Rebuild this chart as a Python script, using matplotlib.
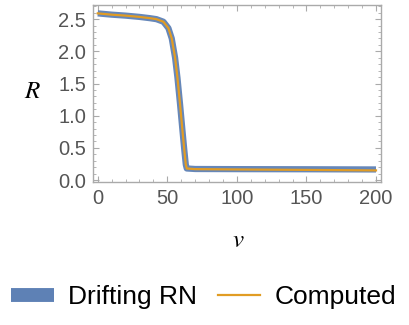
import matplotlib
matplotlib.use("Agg")
import matplotlib.pyplot as plt
from matplotlib.ticker import MultipleLocator, FormatStrFormatter
from matplotlib.lines import Line2D

plt.rcParams["mathtext.fontset"] = "stix"

v_drift = [0, 10, 20, 30, 37.6, 42.2, 47.2, 50.8, 53.2, 55.6, 57.3, 59.2, 60.9, 62.3, 63.3, 64.0, 70, 100, 150, 200]
R_drift = [2.59, 2.57, 2.555, 2.535, 2.515, 2.50, 2.46, 2.36, 2.20, 1.90, 1.59, 1.17, 0.77, 0.45, 0.24, 0.18, 0.172, 0.17, 0.168, 0.165]
v_comp = [0, 10, 20, 30, 37.6, 42.2, 47.2, 50.8, 53.2, 55.6, 57.3, 59.2, 60.9, 62.3, 63.3, 64.0, 70, 100, 150, 200]
R_comp = [2.59, 2.57, 2.555, 2.535, 2.515, 2.50, 2.46, 2.36, 2.20, 1.90, 1.59, 1.17, 0.77, 0.45, 0.24, 0.18, 0.17, 0.165, 0.158, 0.15]

blue = "#5E81B5"
orange = "#E19C24"
gray = "#555555"

fig = plt.figure(figsize=(4.1, 3.25), dpi=100)
ax = fig.add_axes([93/410, 1 - 182/325, (381-93)/410, (182-5)/325])
ax.plot(v_drift, R_drift, color=blue, lw=4.5, solid_capstyle="butt", alpha=0.95)
ax.plot(v_comp, R_comp, color=orange, lw=1.6)
ax.set_xlim(-3.4, 203.6)
ax.set_ylim(-0.03, 2.72)
ax.xaxis.set_major_locator(MultipleLocator(50))
ax.xaxis.set_minor_locator(MultipleLocator(10))
ax.yaxis.set_major_locator(MultipleLocator(0.5))
ax.yaxis.set_minor_locator(MultipleLocator(0.1))
ax.yaxis.set_major_formatter(FormatStrFormatter("%.1f"))
for s in ax.spines.values():
    s.set_color("#aaaaaa")
    s.set_linewidth(1.0)
ax.tick_params(which="both", direction="in", top=True, right=True, color="#aaaaaa")
ax.tick_params(which="major", length=4, width=0.8, labelsize=14.5, labelcolor=gray, pad=5)
ax.tick_params(which="minor", length=2, width=0.6)
for lab in ax.get_xticklabels() + ax.get_yticklabels():
    lab.set_family("Liberation Sans")

fig.text(33/410, 1 - 91/325, "$R$", fontsize=18, ha="center", va="center")
fig.text(238/410, 1 - 240/325, "$v$", fontsize=18, ha="center", va="center")

handles = [Line2D([0], [0], color=blue, lw=10, solid_capstyle="butt"),
           Line2D([0], [0], color=orange, lw=1.6)]
leg = fig.legend(handles, ["Drifting RN", "Computed"], loc="center",
                 bbox_to_anchor=(204/410, 1 - 297/325), ncol=2, frameon=False,
                 prop={"family": "Liberation Sans", "size": 19},
                 handlelength=1.6, handletextpad=0.55, columnspacing=0.8,
                 borderpad=0, borderaxespad=0)
fig.savefig("out.png", dpi=100)
